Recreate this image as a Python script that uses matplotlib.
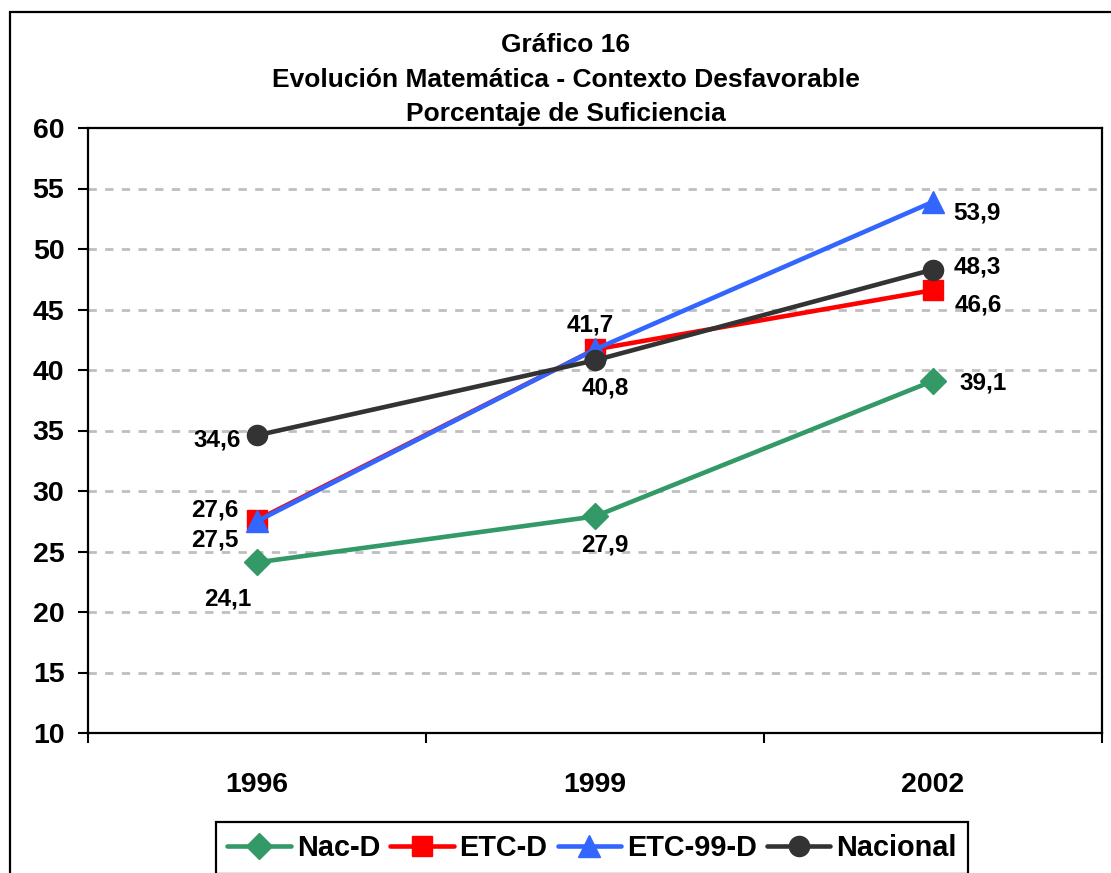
import matplotlib
matplotlib.use("Agg")
import matplotlib.pyplot as plt
from matplotlib.patches import Rectangle

plt.rcParams['font.family'] = ['Liberation Sans', 'DejaVu Sans']
plt.rcParams['font.weight'] = 'bold'

years = ['1996', '1999', '2002']
nac_d = [24.1, 27.9, 39.1]
etc_d = [27.6, 41.7, 46.6]
etc99_d = [27.5, 41.7, 53.9]
nacional = [34.6, 40.8, 48.3]

title_lines = ['Gráfico 16',
               'Evolución Matemática - Contexto Desfavorable',
               'Porcentaje de Suficiencia']
yticks = [10, 15, 20, 25, 30, 35, 40, 45, 50, 55, 60]

W, H = 1111, 873
fig = plt.figure(figsize=(W / 100, H / 100), dpi=100)

# outer chart border
fig.patches.append(Rectangle((10 / W, -0.05), 1.2, 1 - 12 / H + 0.05,
                             transform=fig.transFigure, fill=False,
                             edgecolor='black', linewidth=1.6))

ax = fig.add_axes([88 / W, (H - 733) / H, (1102 - 88) / W, (733 - 128) / H])

x = list(range(len(years)))
series = [
    ('Nac-D', nac_d, '#339966', 'D', 13.5),
    ('ETC-D', etc_d, '#FF0000', 's', 14),
    ('ETC-99-D', etc99_d, '#3366FF', '^', 15.5),
    ('Nacional', nacional, '#333333', 'o', 14.5),
]
for name, vals, col, mk, ms in series:
    ax.plot(x, vals, color=col, lw=3.3, marker=mk, ms=ms, mec=col, mfc=col,
            label=name, zorder=3, solid_capstyle='round')

# data labels (offsets in pixels)
label_offsets = {
    'Nac-D': [(-29, -37), (10, -29), (50, -2)],
    'ETC-D': [(-42, 10), (-5, 24), (45, -15)],
    'ETC-99-D': [(-42, -19), None, (44, -11)],
    'Nacional': [(-40, -5), (10, -28), (44, 3)],
}
for name, vals, col, mk, ms in series:
    for i, v in enumerate(vals):
        off = label_offsets[name][i]
        if off is None:
            continue
        ax.annotate(f'{v:.1f}'.replace('.', ','), (i, v), xytext=off,
                    textcoords='offset pixels', ha='center', va='center',
                    fontsize=17.5, fontweight='bold', zorder=5)

ax.set_xlim(-0.5, 2.5)
ax.set_ylim(10, 60)
ax.set_yticks(yticks)
ax.set_yticklabels([str(t) for t in yticks])
for t in yticks[1:-1]:
    ax.axhline(t, color='#BFBFBF', lw=2, ls=(0, (3, 3)), zorder=1)

ax.set_xticks([-0.5, 0.5, 1.5, 2.5])
ax.set_xticklabels([])
ax.set_xticks(x, minor=True)
ax.set_xticklabels(years, minor=True)
ax.tick_params(axis='x', which='major', direction='out', length=7, width=1.5)
ax.tick_params(axis='x', which='minor', length=0, pad=28, labelsize=20.5)
ax.tick_params(axis='y', direction='out', length=7, width=1.5, pad=10,
               labelsize=20.5)
for lab in ax.get_xticklabels(minor=True) + ax.get_yticklabels():
    lab.set_fontweight('bold')
for s in ax.spines.values():
    s.set_linewidth(1.6)
    s.set_color('black')

# title
baselines = [52, 87, 121]
for line, b in zip(title_lines, baselines):
    fig.text(566 / W, 1 - b / H, line, ha='center', va='baseline',
             fontsize=19, fontweight='bold')

leg = fig.legend(loc='center', bbox_to_anchor=(592 / W, 1 - 848 / H), ncol=4,
                 handlelength=2.2, handletextpad=0.2, columnspacing=0.35,
                 borderpad=0.4, fancybox=False, framealpha=1,
                 edgecolor='black', prop={'size': 20.8, 'weight': 'bold'})
leg.get_frame().set_linewidth(1.6)

fig.savefig('out.png', dpi=100)
